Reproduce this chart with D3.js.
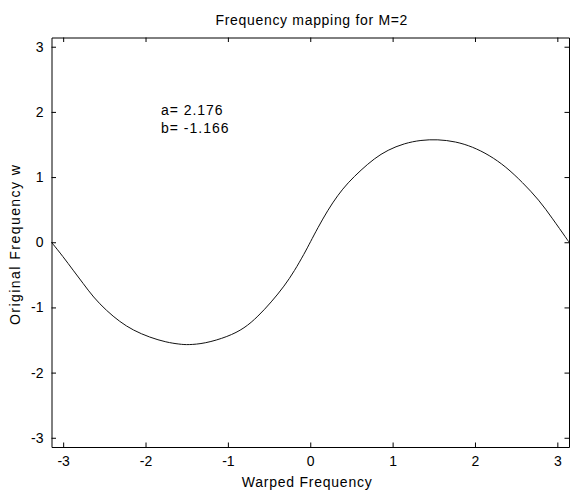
<!DOCTYPE html>
<html>
<head>
<meta charset="utf-8">
<script src="https://cdn.jsdelivr.net/npm/d3@7"></script>
<style>
  body { margin: 0; background: #fff; }
  svg { display: block; }
  text { font-family: Arial, "Liberation Sans", Helvetica, sans-serif; font-size: 14px; fill: #000; }
</style>
</head>
<body>
<svg id="chart" width="570" height="491"></svg>
<script>
// valores
const warpedFreq = [-3.1416, -3.0, -2.879, -2.758, -2.636, -2.474, -2.313, -2.152, -1.949, -1.747,
  -1.585, -1.485, -1.282, -1.0, -0.798, -0.636, -0.474, -0.313, -0.192, -0.07, 0,
  0.091, 0.212, 0.333, 0.455, 0.617, 0.778, 0.939, 1.142, 1.344, 1.545,
  1.768, 1.97, 2.172, 2.375, 2.576, 2.778, 2.939, 3.121, 3.1416];
const originalFreq = [0, -0.222, -0.43, -0.63, -0.84, -1.05, -1.22, -1.35, -1.46, -1.535,
  -1.565, -1.575, -1.555, -1.45, -1.32, -1.14, -0.92, -0.67, -0.44, -0.17, 0,
  0.22, 0.49, 0.72, 0.91, 1.11, 1.285, 1.415, 1.518, 1.568, 1.579,
  1.545, 1.465, 1.338, 1.16, 0.92, 0.648, 0.367, 0.04, 0];
const xTicks = [-3, -2, -1, 0, 1, 2, 3];
const yTicks = [-3, -2, -1, 0, 1, 2, 3];
const params = ["a= 2.176", "b= -1.166"];

const svg = d3.select("#chart");
const mLeft = 51.5, mRight = 569, mTop = 37.5, mBottom = 447;

const x = d3.scaleLinear().domain([-Math.PI, Math.PI]).range([mLeft, mRight]);
const y = d3.scaleLinear().domain([-Math.PI, Math.PI]).range([mBottom, mTop]);
const fmt = d => String(d);

// ejes con marcas hacia dentro, en los cuatro lados
svg.append("g").attr("transform", `translate(0,${mBottom})`)
  .call(d3.axisBottom(x).tickValues(xTicks).tickFormat(fmt).tickSize(-4.5).tickSizeOuter(0).tickPadding(9.5));
svg.append("g").attr("transform", `translate(0,${mTop})`)
  .call(d3.axisTop(x).tickValues(xTicks).tickSize(-4.5).tickSizeOuter(0).tickFormat(""));
svg.append("g").attr("transform", `translate(${mLeft},0)`)
  .call(d3.axisLeft(y).tickValues(yTicks).tickFormat(fmt).tickSize(-4.5).tickSizeOuter(0).tickPadding(8));
svg.append("g").attr("transform", `translate(${mRight},0)`)
  .call(d3.axisRight(y).tickValues(yTicks).tickSize(-4.5).tickSizeOuter(0).tickFormat(""));

svg.selectAll(".domain, .tick line").attr("stroke", "#000");
svg.selectAll("g").attr("font-size", null).attr("font-family", null);

const values = warpedFreq.map((w, i) => ({ w: w, o: originalFreq[i] }));

const line = d3.line()
  .x(d => x(d.w))
  .y(d => y(d.o))
  .curve(d3.curveBasis);

svg.append("path")
  .datum(values)
  .attr("fill", "none")
  .attr("stroke", "#111")
  .attr("stroke-width", 1)
  .attr("d", line);

// titulo y etiquetas
svg.append("text")
  .attr("x", 311.4).attr("y", 25)
  .attr("text-anchor", "middle")
  .attr("textLength", 192).attr("lengthAdjust", "spacing")
  .text("Frequency mapping for M=2");

svg.append("text")
  .attr("x", 306.7).attr("y", 486.5)
  .attr("text-anchor", "middle")
  .attr("textLength", 130).attr("lengthAdjust", "spacing")
  .text("Warped Frequency");

svg.append("text")
  .attr("transform", "translate(20,245) rotate(-90)")
  .attr("text-anchor", "middle")
  .attr("textLength", 160).attr("lengthAdjust", "spacing")
  .text("Original Frequency w");

svg.append("text")
  .attr("x", 161).attr("y", 115)
  .attr("textLength", 61.5).attr("lengthAdjust", "spacing")
  .text(params[0]);
svg.append("text")
  .attr("x", 161).attr("y", 132.5)
  .attr("textLength", 67.5).attr("lengthAdjust", "spacing")
  .text(params[1]);
</script>
</body>
</html>
